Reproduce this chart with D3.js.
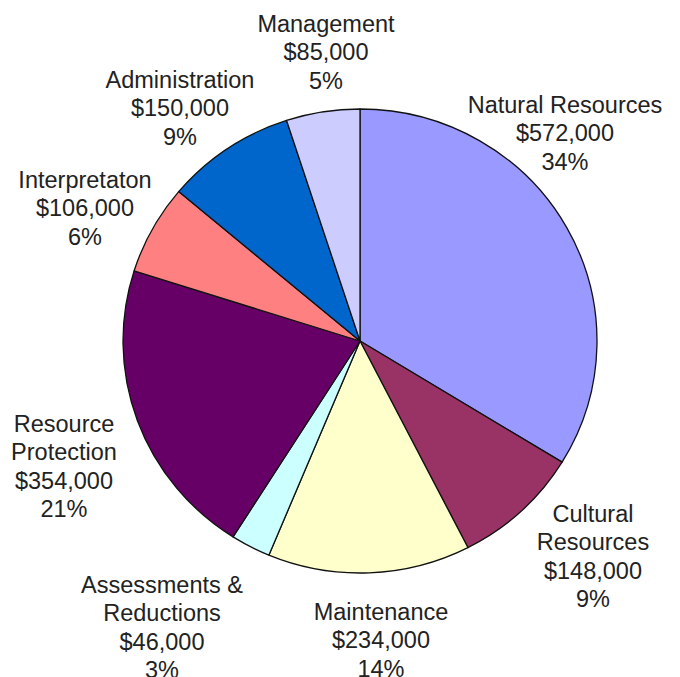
<!DOCTYPE html>
<html>
<head>
<meta charset="utf-8">
<script src="https://cdn.jsdelivr.net/npm/d3@7"></script>
<style>
  html, body { margin: 0; padding: 0; background: #fff; }
  svg { display: block; }
</style>
</head>
<body>
<svg id="chart" width="680" height="677"></svg>
<script>
// ---- data ----
const categories = ["Natural Resources", "Cultural Resources", "Maintenance", "Assessments & Reductions",
                    "Resource Protection", "Interpretaton", "Administration", "Management"];
const values = [572000, 148000, 234000, 46000, 354000, 106000, 150000, 85000];
// label text split into lines (name part)
const labelLines = [["Natural Resources"], ["Cultural", "Resources"], ["Maintenance"], ["Assessments &", "Reductions"],
                    ["Resource", "Protection"], ["Interpretaton"], ["Administration"], ["Management"]];

// ---- styles / layout ----
const colors = ["#9999FF", "#993366", "#FFFFCC", "#CCFFFF", "#660066", "#FF8080", "#0066CC", "#CCCCFF"];
const labelAnchors = [[565, 113], [593, 522], [381, 620], [162, 593], [64, 432], [85, 188], [180, 88], [326, 32]];
const cx = 360, cy = 341, rx = 237, ry = 232;
const lineH = 28.4;

const svg = d3.select("#chart");
const total = d3.sum(values);
const pie = d3.pie().sort(null).value(d => d)(values);
const arc = d3.arc().innerRadius(0).outerRadius(rx);

const g = svg.append("g").attr("transform", `translate(${cx},${cy}) scale(1,${ry / rx})`);
g.selectAll("path").data(pie).join("path")
  .attr("d", arc)
  .attr("fill", (d, i) => colors[i])
  .attr("stroke", "#111")
  .attr("stroke-width", 1.3)
  .attr("vector-effect", "non-scaling-stroke")
  .attr("stroke-linejoin", "round");

const money = d3.format("$,");
const pct = d3.format(".0%");

const labels = svg.append("g")
  .attr("font-family", "'Liberation Sans', Arial, sans-serif")
  .attr("font-size", 23.5)
  .attr("fill", "#222")
  .attr("text-anchor", "middle");

pie.forEach((d, i) => {
  const lines = labelLines[i].concat([money(values[i]), pct(values[i] / total)]);
  const t = labels.append("text")
    .attr("x", labelAnchors[i][0])
    .attr("y", labelAnchors[i][1]);
  lines.forEach((ln, j) => {
    t.append("tspan")
      .attr("x", labelAnchors[i][0])
      .attr("y", labelAnchors[i][1] + j * lineH)
      .text(ln);
  });
});
</script>
</body>
</html>
